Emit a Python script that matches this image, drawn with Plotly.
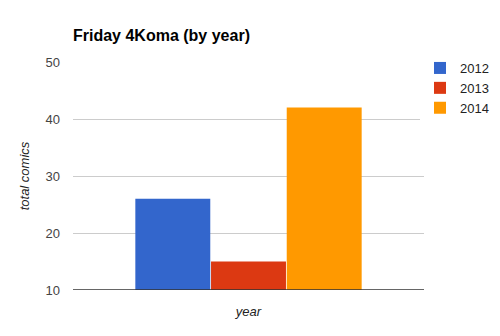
import plotly.graph_objects as go

years = ["2012", "2013", "2014"]
totals = [26, 15, 42]
colors = ["#3366cc", "#dc3912", "#ff9900"]
category = ["year"]

fig = go.Figure()
for y, v, c in zip(years, totals, colors):
    fig.add_trace(go.Bar(x=category, y=[v], name=y, marker=dict(color=c, line=dict(width=0))))

fig.update_layout(
    width=500, height=336,
    margin=dict(l=73, r=76, t=62, b=46, autoexpand=False),
    paper_bgcolor="white", plot_bgcolor="white",
    font=dict(family="Liberation Sans, Arial", size=13, color="#444444"),
    title=dict(text="<b>Friday 4Koma (by year)</b>", x=73/500, xanchor="left", y=1-35/336, yanchor="middle",
               font=dict(size=16, color="#000000")),
    barmode="group", bargap=0.353, bargroupgap=0.01,
    showlegend=True,
    legend=dict(xref="container", yref="container", x=420/500, y=1-53/336, xanchor="left", yanchor="top",
                font=dict(size=13, color="#222222"), tracegroupgap=0, itemwidth=30),
    xaxis=dict(showticklabels=False, showgrid=False, showline=False, zeroline=False,
               title=dict(text="<i>year</i>", font=dict(size=13, color="#222222"), standoff=16)),
    yaxis=dict(range=[10, 50], tickvals=[10, 20, 30, 40, 50], showgrid=True, gridcolor="#cccccc",
               zeroline=False, showline=False, ticks="", ticklabelstandoff=12,
               title=dict(text="<i>total comics</i>", font=dict(size=13, color="#222222"), standoff=12)),
)
fig.add_shape(type="line", xref="paper", yref="y", x0=0, x1=1, y0=10, y1=10,
              line=dict(color="#333333", width=1.5))

fig.write_html("out.html")
